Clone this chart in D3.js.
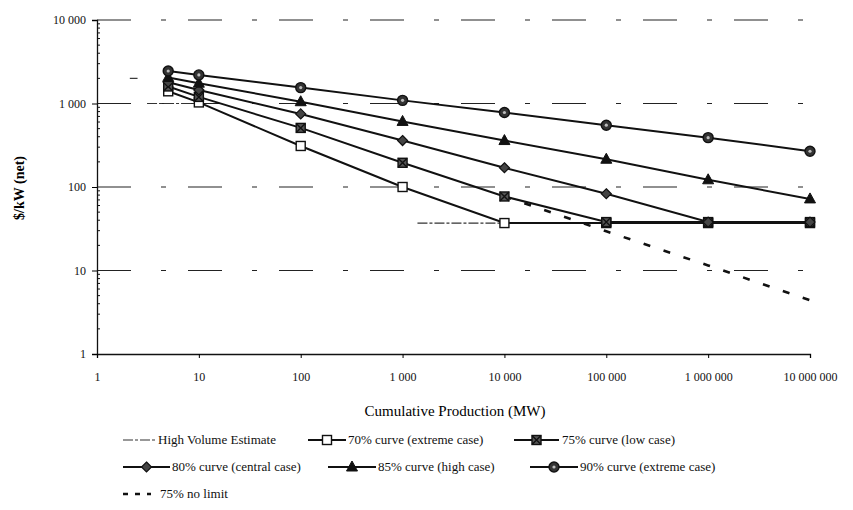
<!DOCTYPE html>
<html><head><meta charset="utf-8">
<script src="https://cdn.jsdelivr.net/npm/d3@7"></script>
<style>body{margin:0;background:#fff}svg{display:block}</style>
</head><body><svg id="c" width="853" height="510"></svg>
<script>
// ---- data ----
const production = [5, 10, 100, 1000, 10000, 100000, 1000000, 10000000];
const curve70 = [1400, 1030, 310, 100, 37, 37, 37, 37];
const curve75 = [1600, 1200, 510, 195, 77, 38, 38, 38];
const curve80 = [1800, 1450, 750, 360, 170, 83, 38, 38];
const curve85 = [2050, 1750, 1050, 610, 360, 215, 122, 72];
const curve90 = [2450, 2200, 1550, 1090, 780, 550, 390, 268];
const noLimitX = [10000, 100000, 1000000, 10000000];
const noLimitY = [77, 29.5, 11.5, 4.4];
const hveStart = [2.1, 3.1, 1400];
const hveEnd = [2.5, 10, 10000];
const hveCost = [2000, 1000, 37];
const xTicks = [1, 10, 100, 1000, 10000, 100000, 1000000, 10000000];
const yTicks = [1, 10, 100, 1000, 10000];
const legendNames = ["High Volume Estimate", "70% curve (extreme case)", "75% curve (low case)",
  "80% curve (central case)", "85% curve (high case)", "90% curve (extreme case)", "75% no limit"];

const FONT = '"Liberation Serif"';
const svg = d3.select("#c");
const x = d3.scaleLog().domain([1, 1e7]).range([97, 810]);
const y = d3.scaleLog().domain([1, 1e4]).range([354, 20]);
const fmt = v => d3.format(",")(v).replace(/,/g, " ");

// gridlines
svg.append("g").selectAll("line").data(yTicks.slice(1)).join("line")
  .attr("x1", x(1)).attr("x2", x(1e7)).attr("y1", d => y(d)).attr("y2", d => y(d))
  .attr("stroke", "#222").attr("stroke-width", 1.2).attr("stroke-dasharray", "34,30,5,22");

// y axis
const yAxis = d3.axisLeft(y).tickValues(yTicks).tickFormat(fmt).tickSize(5).tickPadding(6);
const gy = svg.append("g").attr("transform", `translate(${x(1)},0)`).call(yAxis);
gy.select(".domain").attr("stroke", "#111").attr("stroke-width", 1.3);
gy.selectAll("text").style("font-family", FONT).style("font-size", "12px").attr("fill", "#111");
// minor ticks
const minors = [];
for (let d = 1; d < 1e4; d *= 10) for (let k = 2; k <= 9; k++) minors.push(d * k);
svg.append("g").selectAll("line").data(minors).join("line")
  .attr("x1", x(1)).attr("x2", x(1) + 3).attr("y1", d => y(d)).attr("y2", d => y(d))
  .attr("stroke", "#111").attr("stroke-width", 1);

// x axis
const xAxis = d3.axisBottom(x).tickValues(xTicks).tickFormat(fmt).tickSize(4).tickPadding(14);
const gx = svg.append("g").attr("transform", `translate(0,${y(1)})`).call(xAxis);
gx.select(".domain").attr("stroke", "#111").attr("stroke-width", 1.3);
gx.selectAll("text").style("font-family", FONT).style("font-size", "12px").attr("fill", "#111");

// axis titles
svg.append("text").attr("x", 455).attr("y", 416).attr("text-anchor", "middle")
  .style("font-family", FONT).style("font-size", "15px").text("Cumulative Production (MW)");
svg.append("text").attr("transform", "translate(24,188) rotate(-90)").attr("text-anchor", "middle")
  .style("font-family", FONT).style("font-size", "14px").style("font-weight", "bold").text("$/kW (net)");

// high volume estimate
svg.append("g").selectAll("line").data(hveCost).join("line")
  .attr("x1", (d, i) => x(hveStart[i])).attr("x2", (d, i) => x(hveEnd[i]))
  .attr("y1", d => y(d)).attr("y2", d => y(d))
  .attr("stroke", "#333").attr("stroke-width", 1.2).attr("stroke-dasharray", "10,2,3,2");

// no limit
const line = d3.line().x(d => x(d[0])).y(d => y(d[1]));
svg.append("path").datum(noLimitX.map((v, i) => [v, noLimitY[i]]))
  .attr("d", line).attr("fill", "none").attr("stroke", "#111").attr("stroke-width", 2.6)
  .attr("stroke-dasharray", "7,14");

// marker drawer
function marker(g, type, cx, cy) {
  const s = 4.5;
  if (type === "sq") g.append("rect").attr("x", cx - s).attr("y", cy - s).attr("width", 2 * s).attr("height", 2 * s)
    .attr("fill", "#fff").attr("stroke", "#111").attr("stroke-width", 1.4);
  else if (type === "sqx") {
    g.append("rect").attr("x", cx - s).attr("y", cy - s).attr("width", 2 * s).attr("height", 2 * s)
      .attr("fill", "#555").attr("stroke", "#111").attr("stroke-width", 1.4);
    g.append("path").attr("d", `M${cx - s},${cy - s}L${cx + s},${cy + s}M${cx + s},${cy - s}L${cx - s},${cy + s}`)
      .attr("stroke", "#111").attr("stroke-width", 1.4);
  } else if (type === "dia") g.append("path")
    .attr("d", `M${cx},${cy - 5}L${cx + 5},${cy}L${cx},${cy + 5}L${cx - 5},${cy}Z`)
    .attr("fill", "#444").attr("stroke", "#111").attr("stroke-width", 1.2);
  else if (type === "tri") g.append("path")
    .attr("d", `M${cx},${cy - 6}L${cx + 5.5},${cy + 4}L${cx - 5.5},${cy + 4}Z`)
    .attr("fill", "#111").attr("stroke", "#111").attr("stroke-width", 1);
  else if (type === "cir") {
    g.append("circle").attr("cx", cx).attr("cy", cy).attr("r", 5).attr("fill", "#333").attr("stroke", "#111").attr("stroke-width", 1.4);
    g.append("circle").attr("cx", cx).attr("cy", cy).attr("r", 1.6).attr("fill", "#bbb");
  }
}

const series = [
  {vals: curve70, m: "sq"}, {vals: curve75, m: "sqx"}, {vals: curve80, m: "dia"},
  {vals: curve85, m: "tri"}, {vals: curve90, m: "cir"}
];
series.forEach(s => {
  const pts = production.map((p, i) => [p, s.vals[i]]);
  svg.append("path").datum(pts).attr("d", line).attr("fill", "none")
    .attr("stroke", "#111").attr("stroke-width", 2);
});
series.forEach(s => {
  const g = svg.append("g");
  production.forEach((p, i) => marker(g, s.m, x(p), y(s.vals[i])));
});

// legend
const leg = svg.append("g");
const legItems = [
  {lx: 123, ly: 440, w: 33, tx: 158, kind: "hve"},
  {lx: 308, ly: 440, w: 38, tx: 348, kind: "sq"},
  {lx: 514, ly: 440, w: 45, tx: 562, kind: "sqx"},
  {lx: 123, ly: 467, w: 47, tx: 172, kind: "dia"},
  {lx: 328, ly: 467, w: 48, tx: 378, kind: "tri"},
  {lx: 530, ly: 467, w: 48, tx: 580, kind: "cir"},
  {lx: 123, ly: 494, w: 28, tx: 160, kind: "nl"}
];
legItems.forEach((it, i) => {
  if (it.kind === "hve") leg.append("line").attr("x1", it.lx).attr("x2", it.lx + it.w).attr("y1", it.ly).attr("y2", it.ly)
    .attr("stroke", "#333").attr("stroke-width", 1.2).attr("stroke-dasharray", "10,2,3,2");
  else if (it.kind === "nl") leg.append("line").attr("x1", it.lx).attr("x2", it.lx + it.w).attr("y1", it.ly).attr("y2", it.ly)
    .attr("stroke", "#111").attr("stroke-width", 2.6).attr("stroke-dasharray", "5,7");
  else {
    leg.append("line").attr("x1", it.lx).attr("x2", it.lx + it.w).attr("y1", it.ly).attr("y2", it.ly)
      .attr("stroke", "#111").attr("stroke-width", 2);
    marker(leg, it.kind, it.lx + it.w / 2, it.ly);
  }
  leg.append("text").attr("x", it.tx).attr("y", it.ly + 4).style("font-family", FONT)
    .style("font-size", "13px").attr("fill", "#111").text(legendNames[i]);
});
</script></body></html>
